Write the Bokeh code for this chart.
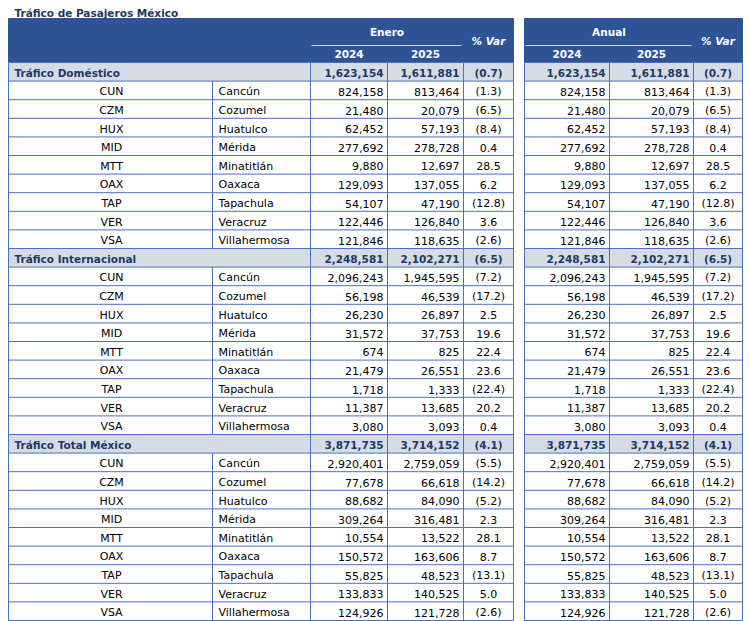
from bokeh.plotting import figure
from bokeh.models import Range1d, ColumnDataSource
from bokeh.core.properties import value
from bokeh.embed import file_html
from bokeh.resources import INLINE

# ---------------- data ----------------
title = "Tráfico de Pasajeros México"
codes = ["CUN", "CZM", "HUX", "MID", "MTT", "OAX", "TAP", "VER", "VSA"]
names = ["Cancún", "Cozumel", "Huatulco", "Mérida", "Minatitlán", "Oaxaca",
         "Tapachula", "Veracruz", "Villahermosa"]
sections = ["Tráfico Doméstico", "Tráfico Internacional", "Tráfico Total México"]

dom_2024 = [824158, 21480, 62452, 277692, 9880, 129093, 54107, 122446, 121846]
dom_2025 = [813464, 20079, 57193, 278728, 12697, 137055, 47190, 126840, 118635]
dom_var = [-1.3, -6.5, -8.4, 0.4, 28.5, 6.2, -12.8, 3.6, -2.6]
dom_tot = [1623154, 1611881, -0.7]

int_2024 = [2096243, 56198, 26230, 31572, 674, 21479, 1718, 11387, 3080]
int_2025 = [1945595, 46539, 26897, 37753, 825, 26551, 1333, 13685, 3093]
int_var = [-7.2, -17.2, 2.5, 19.6, 22.4, 23.6, -22.4, 20.2, 0.4]
int_tot = [2248581, 2102271, -6.5]

tot_2024 = [2920401, 77678, 88682, 309264, 10554, 150572, 55825, 133833, 124926]
tot_2025 = [2759059, 66618, 84090, 316481, 13522, 163606, 48523, 140525, 121728]
tot_var = [-5.5, -14.2, -5.2, 2.3, 28.1, 8.7, -13.1, 5.0, -2.6]
tot_tot = [3871735, 3714152, -4.1]

period_labels = ["Enero", "Anual"]
year_labels = ["2024", "2025"]
var_label = "% Var"

# ---------------- styling / layout ----------------
HEAD = "#2F5496"
SECT_FILL = "#D6DCE5"
SECT_TEXT = "#203864"
GRID = "#4A6FBF"
FONT = "DejaVu Sans"
FS_B = "10.5px"
FS_R = "11px"

W, H = 750, 621
p = figure(width=W, height=H, output_backend="svg", toolbar_location=None,
           x_range=Range1d(0, W), y_range=Range1d(H, 0),
           x_axis_location=None, y_axis_location=None, min_border=0,
           tools="")
p.grid.visible = False
p.outline_line_color = None
p.background_fill_color = "white"
p.border_fill_color = "white"

head_top, head_mid, head_bot = 18, 45, 62
n_rows = 30
row_h = (620 - head_bot) / n_rows

blocks = [
    dict(outer_left=8, left=310, c1=387, c2=463, right=513),
    dict(outer_left=524, left=524, c1=609, c2=693, right=742),
]

def fmt_num(v):
    return f"{v:,}"

def fmt_var(v):
    return f"({abs(v):.1f})" if v < 0 else f"{v:.1f}"

# ---- backgrounds ----
for b in blocks:
    p.quad(left=b["outer_left"], right=b["right"], top=head_top, bottom=head_bot,
           fill_color=HEAD, line_color=HEAD, line_width=1)
    p.segment(x0=b["left"] + 1, x1=b["c2"] - 2, y0=head_mid, y1=head_mid,
              line_color="#C9D4EA", line_width=1)

section_rows = [0, 10, 20]
for r in section_rows:
    top = head_bot + r * row_h
    for b in blocks:
        p.quad(left=b["outer_left"], right=b["right"], top=top, bottom=top + row_h,
               fill_color=SECT_FILL, line_color=None)

# ---- grid lines ----
hx0, hx1, hy = [], [], []
for b in blocks:
    for i in range(n_rows + 1):
        y = head_bot + i * row_h
        hx0.append(b["outer_left"]); hx1.append(b["right"]); hy.append(y)
p.segment(x0=hx0, x1=hx1, y0=hy, y1=hy, line_color=GRID, line_width=1)

vx, vy0, vy1 = [], [], []
for b in blocks:
    for x in sorted(set([b["outer_left"], b["left"], b["c1"], b["c2"], b["right"]])):
        vx.append(x); vy0.append(head_bot); vy1.append(head_bot + n_rows * row_h)
for r in range(n_rows):
    if r not in section_rows:
        vx.append(212); vy0.append(head_bot + r * row_h); vy1.append(head_bot + (r + 1) * row_h)
p.segment(x0=vx, x1=vx, y0=vy0, y1=vy1, line_color=GRID, line_width=1)

# ---- header text ----
hdr_x, hdr_y, hdr_t = [], [], []
for b, lab in zip(blocks, period_labels):
    hdr_x.append((b["left"] + b["c2"]) / 2); hdr_y.append(31); hdr_t.append(lab)
    hdr_x.append((b["left"] + b["c1"]) / 2); hdr_y.append(53); hdr_t.append(year_labels[0])
    hdr_x.append((b["c1"] + b["c2"]) / 2); hdr_y.append(53); hdr_t.append(year_labels[1])
p.text(x=hdr_x, y=hdr_y, text=hdr_t, text_align="center", text_baseline="middle",
       text_font=value(FONT), text_font_size=FS_B, text_font_style="bold", text_color="white")
p.text(x=[(b["c2"] + b["right"]) / 2 for b in blocks], y=[40] * 2,
       text=[var_label] * 2, text_align="center", text_baseline="middle",
       text_font=value(FONT), text_font_size=FS_B, text_font_style="bold italic", text_color="white")

# title
p.text(x=[14], y=[12], text=[title], text_align="left", text_baseline="middle",
       text_font=value(FONT), text_font_size="10.5px", text_font_style="bold", text_color=SECT_TEXT)

# ---- body text ----
groups = [
    (sections[0], dom_tot, dom_2024, dom_2025, dom_var),
    (sections[1], int_tot, int_2024, int_2025, int_var),
    (sections[2], tot_tot, tot_2024, tot_2025, tot_var),
]

sec = dict(x=[], y=[], t=[], a=[])
dat = dict(x=[], y=[], t=[], a=[])

def add(d, x, y, t, a):
    d["x"].append(x); d["y"].append(y); d["t"].append(t); d["a"].append(a)

r = 0
for name, tot, v24, v25, vv in groups:
    yc = head_bot + (r + 0.5) * row_h + 1.2
    add(sec, 14, yc, name, "left")
    for b in blocks:
        add(sec, b["c1"] - 4, yc, fmt_num(tot[0]), "right")
        add(sec, b["c2"] - 4, yc, fmt_num(tot[1]), "right")
        add(sec, (b["c2"] + b["right"]) / 2, yc, fmt_var(tot[2]), "center")
    r += 1
    for i in range(len(codes)):
        yc = head_bot + (r + 0.5) * row_h + 1.5
        add(dat, 111, yc, codes[i], "center")
        add(dat, 218, yc, names[i], "left")
        for b in blocks:
            add(dat, b["c1"] - 4, yc, fmt_num(v24[i]), "right")
            add(dat, b["c2"] - 4, yc, fmt_num(v25[i]), "right")
            add(dat, (b["c2"] + b["right"]) / 2, yc, fmt_var(vv[i]), "center")
        r += 1

src_s = ColumnDataSource(dict(x=sec["x"], y=sec["y"], t=sec["t"], a=sec["a"]))
src_d = ColumnDataSource(dict(x=dat["x"], y=dat["y"], t=dat["t"], a=dat["a"]))
p.text(x="x", y="y", text="t", text_align="a", source=src_s, text_baseline="middle",
       text_font=value(FONT), text_font_size=FS_B, text_font_style="bold", text_color=SECT_TEXT)
p.text(x="x", y="y", text="t", text_align="a", source=src_d, text_baseline="middle",
       text_font=value(FONT), text_font_size=FS_R, text_color="black")

open("out.html", "w").write(file_html(p, INLINE))
